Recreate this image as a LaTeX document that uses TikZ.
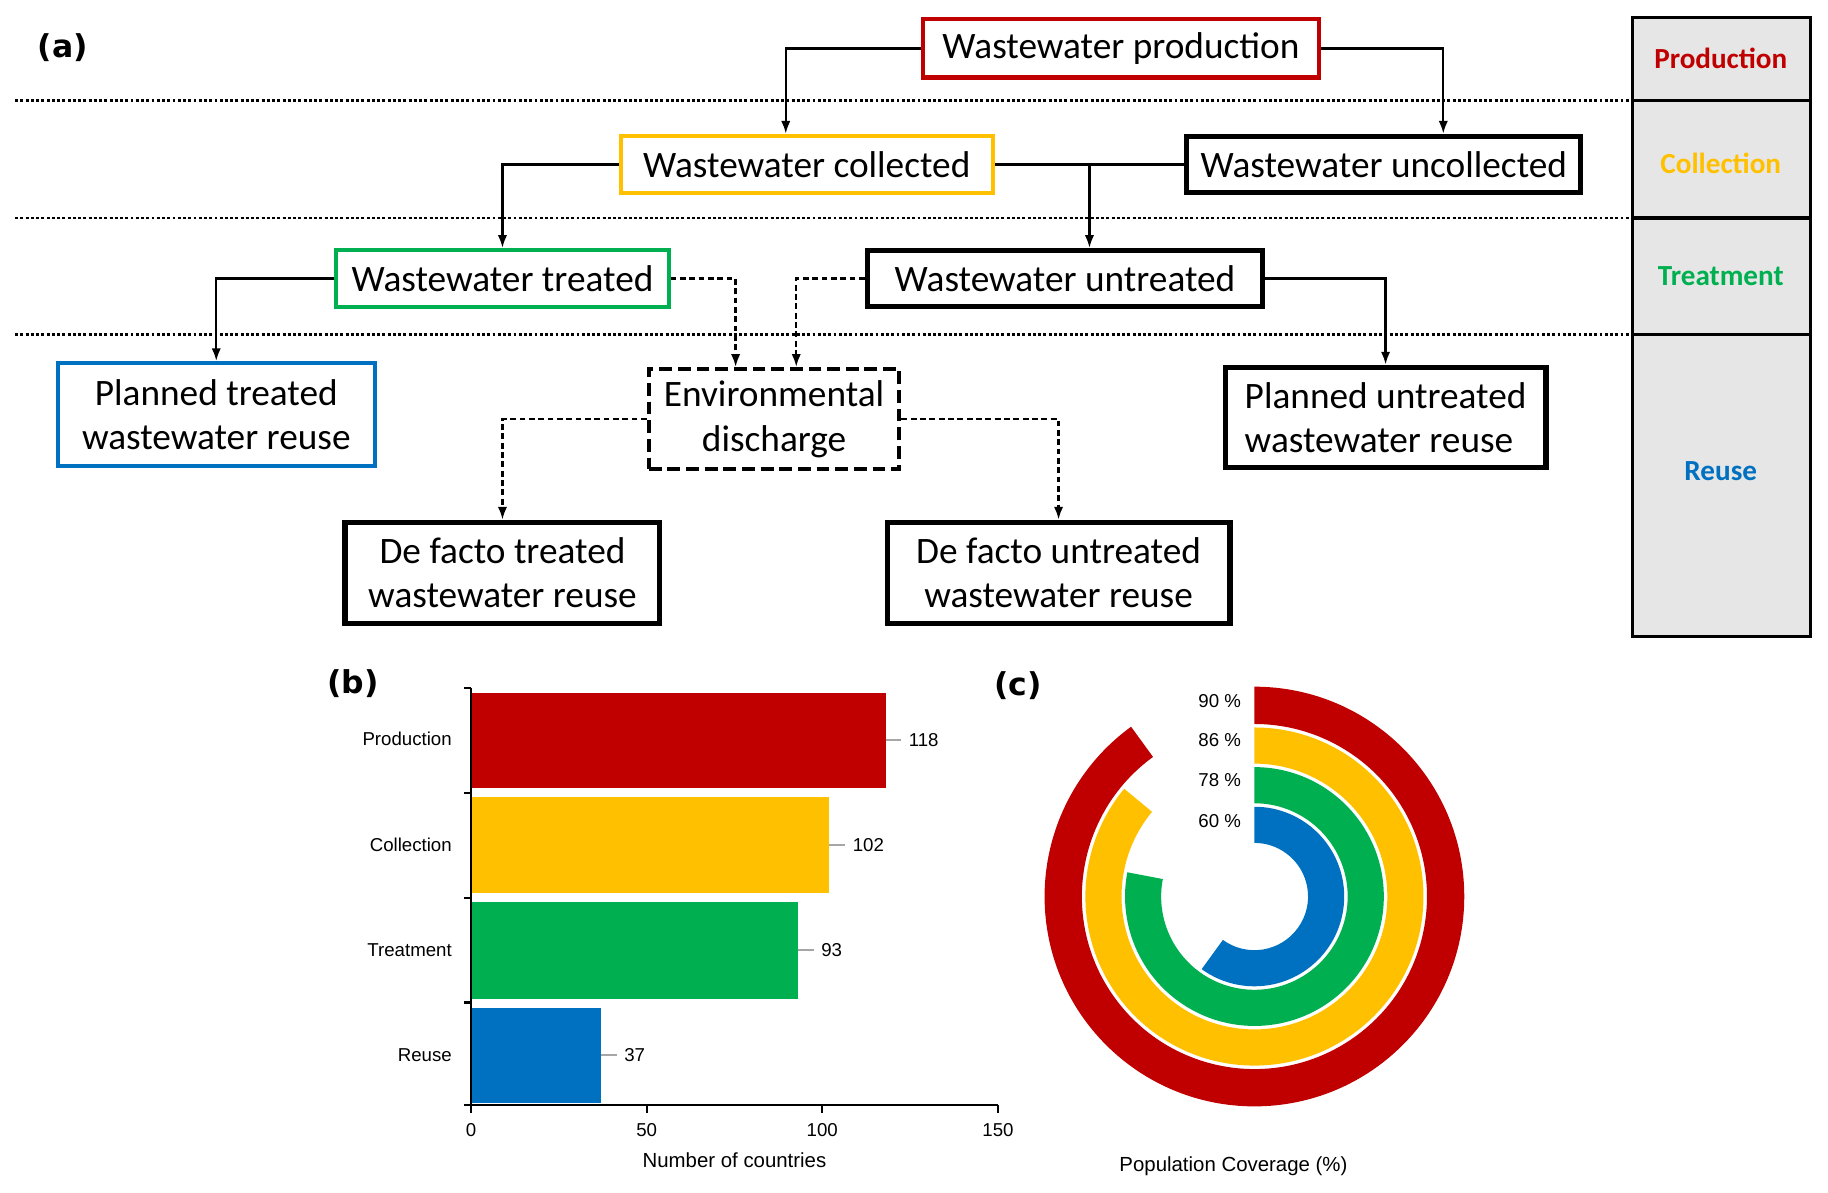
\documentclass[tikz,border=0pt]{standalone}
\usepackage{fontspec}
\setmainfont{Carlito}
\newfontfamily\arialf{Liberation Sans}
\newfontfamily\dejav{DejaVu Sans}
\usetikzlibrary{arrows.meta}
\definecolor{cred}{HTML}{C00000}
\definecolor{cyel}{HTML}{FFC000}
\definecolor{cgrn}{HTML}{00B050}
\definecolor{cblu}{HTML}{0070C0}
\definecolor{cgray}{HTML}{E6E6E6}
\definecolor{lead}{HTML}{A6A6A6}
\tikzset{
  box/.style={draw, line width=3.5pt, inner sep=0pt, font=\fontsize{32}{38}\selectfont, align=center},
  blk/.style={box, draw=black, line width=4.5pt},
  conn/.style={line width=2pt},
  arr/.style={conn, -{Latex[length=11pt,width=8pt]}},
  darr/.style={arr, dash pattern=on 5pt off 3pt},
  sepline/.style={line width=2.5pt, dash pattern=on 2.5pt off 2pt},
  panlab/.style={font=\fontsize{25}{29}\selectfont\bfseries},
  chartlab/.style={font=\arialf\fontsize{16}{19}\selectfont},
  axtitle/.style={font=\arialf\fontsize{17.5}{21}\selectfont},
  letter/.style={font=\dejav\bfseries\fontsize{27}{31}\selectfont}
}
\begin{document}
\begin{tikzpicture}[x=1pt,y=-1pt]
\useasboundingbox (0,0) rectangle (1568,1023);
% right panel
\node[draw, line width=2.5pt, fill=cgray, minimum width=153pt, minimum height=531pt, inner sep=0pt] (panel) at (1476.5,280.5) {};
\draw[line width=3pt] (1400,86) -- (1553,86) (1400,187) -- (1553,187) (1400,287) -- (1553,287);
\node[panlab, text=cred] (lp) at (1476,50) {Production};
\node[panlab, text=cyel] (lc) at (1476,140) {Collection};
\node[panlab, text=cgrn] (lt) at (1476,237) {Treatment};
\node[panlab, text=cblu] (lr) at (1476,404) {Reuse};
% dotted separators
\draw[sepline] (13,86) -- (1400,86);
\draw[sepline] (13,187) -- (1400,187);
\draw[sepline] (13,287) -- (1400,287);
% panel letter
\node[letter] (la) at (54,41) {(a)};
% nodes
\node[box, draw=cred, minimum width=340pt, minimum height=50pt] (prod) at (961.5,41.5) {Wastewater production};
\node[box, draw=cyel, minimum width=319pt, minimum height=49pt] (coll) at (692,141) {Wastewater collected};
\node[blk, minimum width=338pt, minimum height=48pt] (uncoll) at (1187,141) {Wastewater uncollected};
\node[box, draw=cgrn, minimum width=285pt, minimum height=49pt] (treat) at (431,239) {Wastewater treated};
\node[blk, minimum width=339pt, minimum height=48pt] (untr) at (913.5,239) {Wastewater untreated};
\node[box, draw=cblu, minimum width=272pt, minimum height=88pt] (ptr) at (185.5,355.5) {Planned treated\\wastewater reuse};
\node[blk, line width=3.5pt, dash pattern=on 11pt off 5pt, minimum width=215pt, minimum height=86pt] (env) at (664,359.5) {Environmental\\discharge};
\node[blk, minimum width=275pt, minimum height=86pt, align=left] (punt) at (1188.5,358) {Planned untreated\\wastewater reuse};
\node[blk, minimum width=270pt, minimum height=87pt] (dft) at (431,491.5) {De facto treated\\wastewater reuse};
\node[blk, minimum width=294pt, minimum height=87pt] (dfu) at (908,491.5) {De facto untreated\\wastewater reuse};
% connectors
\draw[arr] (prod.west) -| ([xshift=-18pt]coll.north);
\draw[arr] (prod.east) -| ([xshift=51pt]uncoll.north);
\draw[arr] (coll.west) -| (treat.north);
\draw[conn] (coll.east) -- coordinate[pos=0.5] (br) (uncoll.west);
\draw[arr] (br) -- (br |- untr.north);
\draw[arr] (treat.west) -| (ptr.north);
\draw[darr] (treat.east) -| ([xshift=-33pt]env.north);
\draw[darr] (untr.west) -| ([xshift=19pt]env.north);
\draw[arr] (untr.east) -| (punt.north);
\draw[darr] (env.west) -| (dft.north);
\draw[darr] (env.east) -| (dfu.north);

% ---------- (b) bar chart ----------
\node[letter] (lb) at (303,586) {(b)};
\fill[cred] (405,594) rectangle (759.6,676);
\fill[cyel] (405,684) rectangle (711.4,766);
\fill[cgrn] (405,774) rectangle (684.2,857);
\fill[cblu] (405,865) rectangle (515.5,946);
\draw[line width=2pt] (404,590) -- (404,948) -- (856,948);
\foreach \yy in {590,680,770,860,948} \draw[line width=2pt] (404,\yy) -- (398,\yy);
\foreach \xx in {404,554.7,705.3,856} \draw[line width=2pt] (\xx,948) -- (\xx,955);
\node[chartlab, anchor=east] (cp) at (391,634) {Production};
\node[chartlab, anchor=east] (cc) at (391,725) {Collection};
\node[chartlab, anchor=east] (ct) at (391,815) {Treatment};
\node[chartlab, anchor=east] (cr) at (391,905) {Reuse};
\draw[lead, line width=1.5pt] (759.6,635) -- (773,635);
\draw[lead, line width=1.5pt] (711.4,725) -- (725,725);
\draw[lead, line width=1.5pt] (684.2,815) -- (698,815);
\draw[lead, line width=1.5pt] (515.5,905) -- (529,905);
\node[chartlab, anchor=west] (v1) at (776,635) {118};
\node[chartlab, anchor=west] (v2) at (728,725) {102};
\node[chartlab, anchor=west] (v3) at (701,815) {93};
\node[chartlab, anchor=west] (v4) at (532,905) {37};
\node[chartlab] (t0) at (404,969) {0};
\node[chartlab] (t1) at (554.7,969) {50};
\node[chartlab] (t2) at (705.3,969) {100};
\node[chartlab] (t3) at (856,969) {150};
\node[axtitle] (xl) at (630,995) {Number of countries};

% ---------- (c) rings ----------
\node[letter] (lcc) at (873,588) {(c)};
\begin{scope}[shift={(1076,769)}, y=1pt]
  \fill[cred] (90:180) arc[start angle=90, end angle=-234, radius=180] -- (-234:148) arc[start angle=-234, end angle=90, radius=148] -- cycle;
  \fill[cyel] (90:145) arc[start angle=90, end angle=-219.6, radius=145] -- (-219.6:114) arc[start angle=-219.6, end angle=90, radius=114] -- cycle;
  \fill[cgrn] (90:111) arc[start angle=90, end angle=-190.8, radius=111] -- (-190.8:80) arc[start angle=-190.8, end angle=90, radius=80] -- cycle;
  \fill[cblu] (90:77) arc[start angle=90, end angle=-126, radius=77] -- (-126:46) arc[start angle=-126, end angle=90, radius=46] -- cycle;
\end{scope}
\node[chartlab, anchor=east] (p1) at (1068,601) {90 \%};
\node[chartlab, anchor=east] (p2) at (1068,635) {86 \%};
\node[chartlab, anchor=east] (p3) at (1068,669) {78 \%};
\node[chartlab, anchor=east] (p4) at (1068,704) {60 \%};
\node[axtitle] (pcl) at (1058,1000) {Population Coverage (\%)};
\end{tikzpicture}
\end{document}
